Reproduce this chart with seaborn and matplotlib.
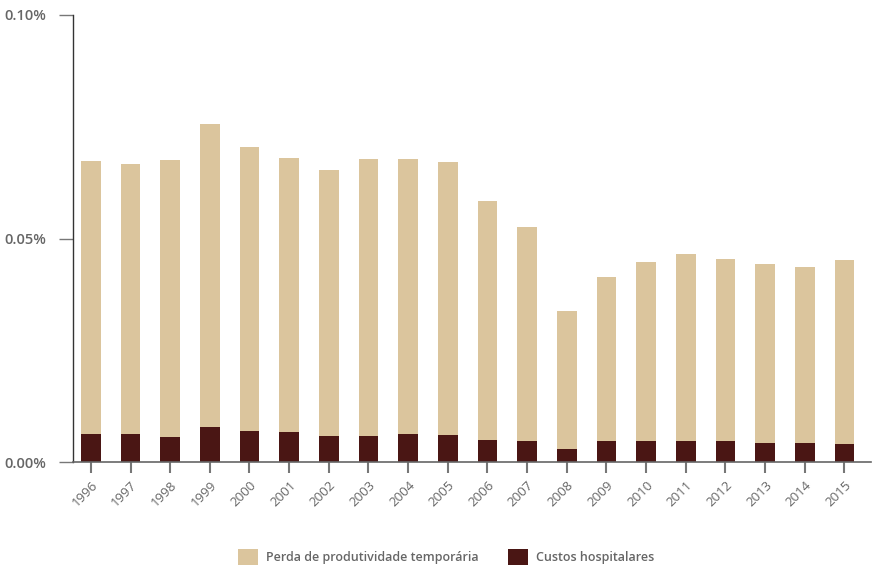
import matplotlib
matplotlib.use("Agg")
import matplotlib.pyplot as plt
from matplotlib.patches import Patch
import numpy as np
import pandas as pd
import seaborn as sns

years = [str(y) for y in range(1996, 2016)]
# percentage of GDP
hospital_costs = [0.0063, 0.0063, 0.0056, 0.0078, 0.0069, 0.0067, 0.0058, 0.0058, 0.0063, 0.0060,
                  0.0049, 0.0047, 0.0029, 0.0047, 0.0047, 0.0047, 0.0047, 0.0043, 0.0043, 0.0040]
productivity_loss = [0.0610, 0.0604, 0.0620, 0.0678, 0.0636, 0.0613, 0.0595, 0.0620, 0.0615, 0.0611,
                     0.0535, 0.0479, 0.0309, 0.0367, 0.0400, 0.0418, 0.0407, 0.0400, 0.0393, 0.0412]
y_ticks = [0.0, 0.05, 0.10]
y_tick_labels = ["0.00%", "0.05%", "0.10%"]
series_names = ["Perda de produtividade temporária", "Custos hospitalares"]

beige = "#DBC59D"
maroon = "#4A1614"
grey = "#666666"

df = pd.DataFrame({
    "ano": years,
    "hosp": hospital_costs,
    "prod": productivity_loss,
})
df["total"] = df["hosp"] + df["prod"]

sns.set_style("white")
plt.rcParams["font.family"] = ["Open Sans", "DejaVu Sans"]

fig = plt.figure(figsize=(8.72, 5.67), dpi=100)
ax = fig.add_axes([73 / 872, (567 - 462) / 567, (871 - 73) / 872, (462 - 15) / 567])

sns.barplot(data=df, x="ano", y="total", color=beige, width=0.5, saturation=1,
            linewidth=0, edgecolor="none", ax=ax)
sns.barplot(data=df, x="ano", y="hosp", color=maroon, width=0.5, saturation=1,
            linewidth=0, edgecolor="none", ax=ax)

ax.set_xlim(-0.45, 19.67)
ax.set_ylim(0, 0.10)
ax.set_yticks(y_ticks)
ax.set_yticklabels(y_tick_labels, fontsize=10.5, color=grey, fontweight="semibold")
ax.set_xticks(range(len(years)))
ax.set_xticklabels(years, rotation=45, ha="right", rotation_mode="anchor",
                   fontsize=9.5, color=grey)
ax.set_xlabel("")
ax.set_ylabel("")

for s in ["top", "right"]:
    ax.spines[s].set_visible(False)
ax.spines["left"].set_color("#333333")
ax.spines["left"].set_linewidth(1.0)
ax.spines["bottom"].set_color(grey)
ax.spines["bottom"].set_linewidth(1.2)
ax.tick_params(axis="y", direction="out", length=10, width=1, color="#777777", pad=9, left=True)
ax.tick_params(axis="x", direction="out", length=8, width=1.5, color="#777777", pad=4, bottom=True)

handles = [Patch(facecolor=beige, edgecolor="none"), Patch(facecolor=maroon, edgecolor="none")]
leg = fig.legend(handles, series_names, loc="center", bbox_to_anchor=(446 / 872, 1 - 557 / 567),
                 ncol=2, frameon=False, fontsize=9, labelcolor=grey, handlelength=1.6,
                 handleheight=1.6, columnspacing=2.4, handletextpad=0.6)
for t in leg.get_texts():
    t.set_fontweight("semibold")

fig.savefig("out.png", dpi=100)
